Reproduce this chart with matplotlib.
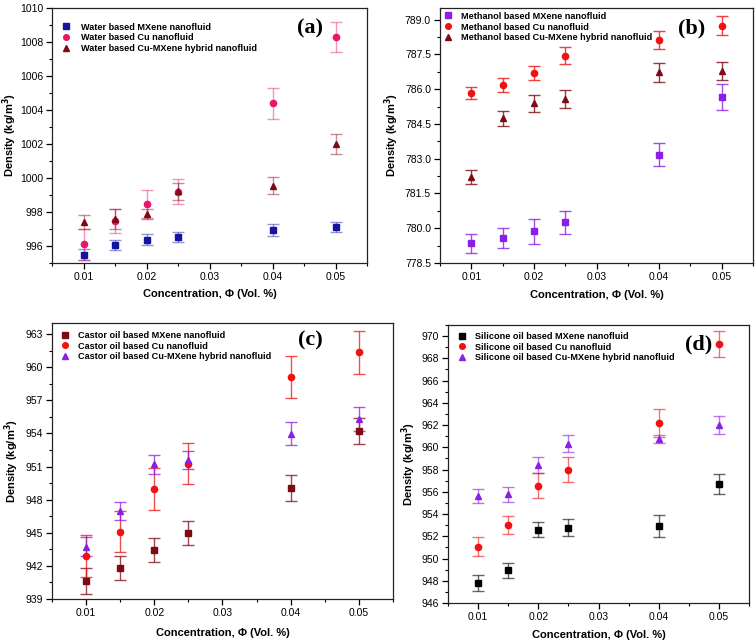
import matplotlib
matplotlib.use("Agg")
import matplotlib.pyplot as plt
from matplotlib.ticker import MultipleLocator, FormatStrFormatter

plt.rcParams['font.family'] = ['Liberation Sans', 'DejaVu Sans']

conc = [0.01, 0.015, 0.02, 0.025, 0.04, 0.05]

# (a) Water
water_mx = [995.5, 996.08, 996.38, 996.55, 996.93, 997.13]
water_mx_err = [0.3, 0.3, 0.35, 0.3, 0.35, 0.3]
water_cu = [996.1, 997.46, 998.47, 999.2, 1004.4, 1008.3]
water_cu_err = [0.9, 0.7, 0.8, 0.75, 0.9, 0.9]
water_hy = [997.42, 997.58, 997.88, 999.23, 999.54, 1002.0]
water_hy_err = [0.4, 0.6, 0.3, 0.5, 0.5, 0.58]

# (b) Methanol
meth_mx = [779.35, 779.57, 779.86, 780.25, 783.18, 785.66]
meth_mx_err = [0.41, 0.43, 0.52, 0.51, 0.48, 0.55]
meth_cu = [785.84, 786.18, 786.70, 787.45, 788.12, 788.73]
meth_cu_err = [0.27, 0.3, 0.31, 0.35, 0.37, 0.41]
meth_hy = [782.21, 784.74, 785.39, 785.58, 786.72, 786.79]
meth_hy_err = [0.31, 0.32, 0.36, 0.4, 0.42, 0.4]

# (c) Castor oil
cast_mx = [940.66, 941.81, 943.45, 945.02, 949.05, 954.22]
cast_mx_err = [1.18, 1.12, 1.1, 1.09, 1.2, 1.2]
cast_cu = [942.93, 945.1, 949.0, 951.26, 959.13, 961.33]
cast_cu_err = [1.9, 1.85, 1.9, 1.86, 1.9, 1.98]
cast_hy = [943.75, 946.96, 951.2, 951.62, 953.98, 955.28]
cast_hy_err = [0.9, 0.8, 0.85, 0.83, 1.07, 1.1]

# (d) Silicone oil
sil_mx = [947.8, 948.94, 952.6, 952.78, 952.93, 956.71]
sil_mx_err = [0.72, 0.7, 0.7, 0.75, 1.0, 0.93]
sil_cu = [951.07, 953.02, 956.56, 958.0, 962.2, 969.28]
sil_cu_err = [0.85, 0.83, 1.15, 1.14, 1.25, 1.2]
sil_hy = [955.63, 955.78, 958.45, 960.34, 960.76, 962.02]
sil_hy_err = [0.6, 0.68, 0.72, 0.75, 0.33, 0.83]

BLUE = '#1414a0'
PINK = '#e8176a'
MAROON = '#7d0a14'
PURPLE = '#8a1fe6'
RED = '#f01212'
BLACK = '#000000'

fig = plt.figure(figsize=(7.56, 6.44), dpi=100)

panels = [
    dict(rect=[52/756, 1-263/644, 315/756, 255/644], label='(a)', lpos=(0.82, 0.92),
         ylim=(995, 1010), major=2, minor=1, fmt='%d', err_alpha=0.45,
         leg=(0.017, 0.957), htp=1.2, ylc=-0.105, xlc=-0.102,
         series=[('Water based MXene nanofluid', 's', BLUE, water_mx, water_mx_err),
                 ('Water based Cu nanofluid', 'o', PINK, water_cu, water_cu_err),
                 ('Water based Cu-MXene hybrid nanofluid', '^', MAROON, water_hy, water_hy_err)]),
    dict(rect=[440/756, 1-263/644, 313/756, 255/644], label='(b)', lpos=(0.805, 0.92),
         ylim=(778.5, 789.5), major=1.5, minor=0.75, fmt='%.1f', err_alpha=0.8,
         leg=(0.0, 1.0), htp=0.9, ylc=-0.125, xlc=-0.106,
         series=[('Methanol based MXene nanofluid', 's', PURPLE, meth_mx, meth_mx_err),
                 ('Methanol based Cu nanofluid', 'o', RED, meth_cu, meth_cu_err),
                 ('Methanol based Cu-MXene hybrid nanofluid', '^', MAROON, meth_hy, meth_hy_err)]),
    dict(rect=[52/756, 1-599/644, 341/756, 276/644], label='(c)', lpos=(0.757, 0.935),
         ylim=(939, 964), major=3, minor=1.5, fmt='%d', err_alpha=0.75,
         leg=(0.015, 0.985), htp=0.9, ylc=-0.09, xlc=-0.105,
         series=[('Castor oil based MXene nanofluid', 's', MAROON, cast_mx, cast_mx_err),
                 ('Castor oil based Cu nanofluid', 'o', RED, cast_cu, cast_cu_err),
                 ('Castor oil based Cu-MXene hybrid nanofluid', '^', PURPLE, cast_hy, cast_hy_err)]),
    dict(rect=[448/756, 1-603/644, 301/756, 278/644], label='(d)', lpos=(0.834, 0.93),
         ylim=(946, 971), major=2, minor=1, fmt='%d', err_alpha=0.6,
         leg=(0.02, 0.989), htp=0.9, ylc=-0.10, xlc=-0.097,
         series=[('Silicone oil based MXene nanofluid', 's', BLACK, sil_mx, sil_mx_err),
                 ('Silicone oil based Cu nanofluid', 'o', RED, sil_cu, sil_cu_err),
                 ('Silicone oil based Cu-MXene hybrid nanofluid', '^', PURPLE, sil_hy, sil_hy_err)]),
]

for p in panels:
    ax = fig.add_axes(p['rect'])
    handles = []
    for name, mk, col, vals, errs in p['series']:
        ax.errorbar(conc, vals, yerr=errs, fmt='none', ecolor=col,
                    elinewidth=1.0, capsize=4.5, capthick=1.0, alpha=p['err_alpha'], zorder=2)
        h, = ax.plot(conc, vals, linestyle='none', marker=mk, markersize=4.5,
                     color=col, label=name, zorder=3)
        handles.append(h)
    ax.set_xlim(0.005, 0.055)
    ax.set_ylim(*p['ylim'])
    ax.xaxis.set_major_locator(MultipleLocator(0.01))
    ax.xaxis.set_minor_locator(MultipleLocator(0.005))
    ax.xaxis.set_major_formatter(FormatStrFormatter('%.2f'))
    ax.yaxis.set_major_locator(MultipleLocator(p['major']))
    ax.yaxis.set_minor_locator(MultipleLocator(p['minor']))
    ax.yaxis.set_major_formatter(FormatStrFormatter(p['fmt']))
    ax.tick_params(which='both', direction='out', top=False, right=False, labelsize=7.5)
    ax.tick_params(which='major', length=4, width=0.9, pad=2.5)
    ax.tick_params(which='minor', length=2.5, width=0.8)
    for s in ax.spines.values():
        s.set_linewidth(0.9)
        s.set_color('#222222')
    ax.set_xlabel('Concentration, \u03a6 (Vol. %)', fontsize=8, fontweight='bold')
    ax.set_ylabel('Density (kg/m$^\\mathbf{3}$)', fontsize=8, fontweight='bold')
    ax.xaxis.set_label_coords(0.5, p['xlc'])
    ax.yaxis.set_label_coords(p['ylc'], 0.5)
    ax.legend(handles=handles, loc='upper left', bbox_to_anchor=p['leg'], frameon=False,
              prop={'size': 6.6, 'weight': 'bold'}, handlelength=1.0, handletextpad=p['htp'],
              labelspacing=0.2, borderaxespad=0.0, markerscale=0.9)
    ax.text(p['lpos'][0], p['lpos'][1], p['label'], transform=ax.transAxes,
            ha='center', va='center', fontsize=16, fontweight='bold',
            family=['Liberation Serif', 'DejaVu Serif'])

fig.savefig('out.png', dpi=100)
